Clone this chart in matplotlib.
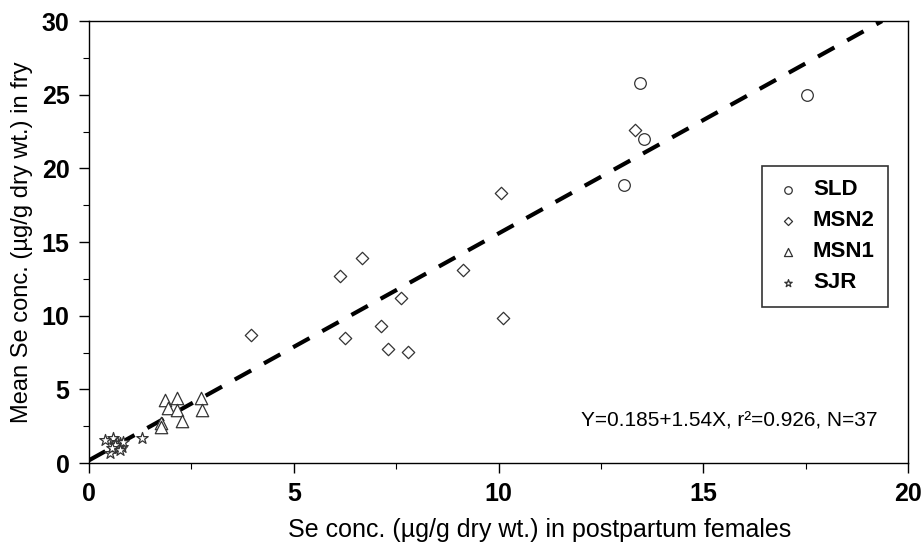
import numpy as np
import matplotlib
matplotlib.use('Agg')
import matplotlib.pyplot as plt
from matplotlib.ticker import MultipleLocator

plt.rcParams['font.family'] = ['Liberation Sans', 'DejaVu Sans']

# Data (x = female Se, y = mean fry Se)
sld_x = [13.45, 13.55, 13.06, 17.53]
sld_y = [25.8, 22.0, 18.85, 25.0]

msn2_x = [3.95, 6.12, 6.67, 6.24, 7.14, 7.31, 7.78, 7.62, 9.14, 10.11, 10.05, 13.33]
msn2_y = [8.72, 12.68, 13.9, 8.49, 9.32, 7.75, 7.55, 11.2, 13.1, 9.86, 18.3, 22.6]

msn1_x = [1.86, 2.14, 1.94, 2.14, 2.73, 2.75, 2.27, 1.76, 1.76]
msn1_y = [4.26, 4.41, 3.74, 3.58, 4.41, 3.58, 2.84, 2.70, 2.43]

sjr_x = [0.39, 0.59, 0.68, 0.76, 0.80, 0.72, 0.51, 1.29, 0.84, 0.64, 0.55, 0.76]
sjr_y = [1.55, 1.67, 1.44, 1.33, 1.10, 0.99, 0.66, 1.67, 1.44, 1.22, 0.99, 0.88]

# regression
intercept = 0.185
slope = 1.54

fig = plt.figure(figsize=(9.23, 5.49), dpi=100)
ax = fig.add_axes([0.0964, 0.1566, 0.8876, 0.805])

mk = dict(facecolors='white', edgecolors='#333333', linewidths=0.9)
ax.scatter(sld_x, sld_y, marker='o', s=70, label='SLD', zorder=3, **mk)
ax.scatter(msn2_x, msn2_y, marker='D', s=40, label='MSN2', zorder=3, **mk)
ax.scatter(msn1_x, msn1_y, marker='^', s=80, label='MSN1', zorder=3, **mk)
ax.scatter(sjr_x, sjr_y, marker='*', s=75, label='SJR', zorder=3, **mk)

xl = np.array([0, (30 - intercept) / slope])
ax.plot(xl, intercept + slope * xl, color='black', lw=3, ls=(0, (4.5, 3.5)), zorder=2)

ax.set_xlim(0, 20)
ax.set_ylim(0, 30)
ax.xaxis.set_major_locator(MultipleLocator(5))
ax.xaxis.set_minor_locator(MultipleLocator(2.5))
ax.yaxis.set_major_locator(MultipleLocator(5))
ax.yaxis.set_minor_locator(MultipleLocator(2.5))
ax.tick_params(which='major', direction='out', length=7, width=1, labelsize=18, pad=7)
ax.tick_params(which='minor', direction='out', length=4, width=0.8)
for lab in ax.get_xticklabels() + ax.get_yticklabels():
    lab.set_fontweight('bold')

for sp in ax.spines.values():
    sp.set_linewidth(1)

ax.set_xlabel('Se conc. (µg/g dry wt.) in postpartum females', fontsize=18)
ax.xaxis.set_label_coords(0.55, -0.125)
ax.set_ylabel('Mean Se conc. (µg/g dry wt.) in fry', fontsize=17, labelpad=6)

ax.text(0.963, 0.095, 'Y=0.185+1.54X, r²=0.926, N=37', transform=ax.transAxes,
        ha='right', va='center', fontsize=15)

leg = ax.legend(loc='upper right', bbox_to_anchor=(0.989, 0.697), frameon=True,
                fancybox=False, edgecolor='black', markerscale=0.65,
                prop={'weight': 'bold', 'size': 16}, handletextpad=0.5,
                labelspacing=0.45, borderpad=0.6, handlelength=1.2)
leg.get_frame().set_linewidth(1.2)

fig.savefig('out.png', dpi=100)
